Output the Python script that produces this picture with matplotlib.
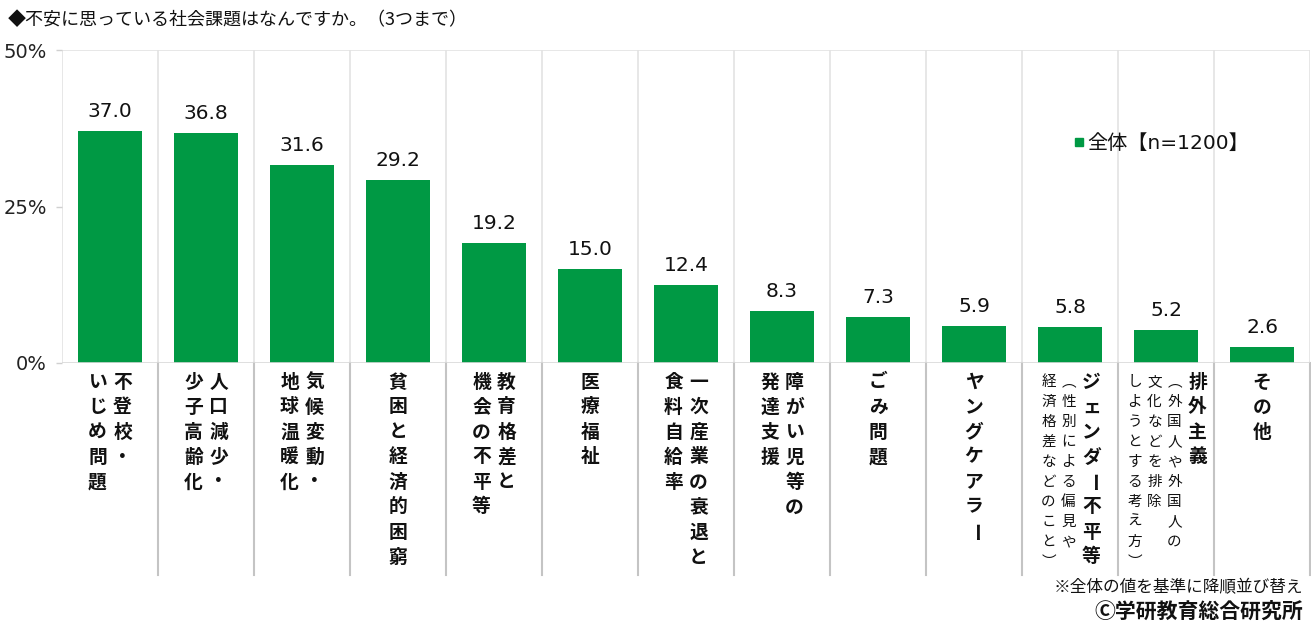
import matplotlib
matplotlib.use("Agg")
import matplotlib.pyplot as plt
from matplotlib.lines import Line2D
from matplotlib.patches import Rectangle
import matplotlib.transforms as mtransforms

# ---------------- data ----------------
categories = [
    "不登校・いじめ問題",
    "人口減少・少子高齢化",
    "気候変動・地球温暖化",
    "貧困と経済的困窮",
    "教育格差と機会の不平等",
    "医療福祉",
    "一次産業の衰退と食料自給率",
    "障がい児等の発達支援",
    "ごみ問題",
    "ヤングケアラー",
    "ジェンダー不平等（性別による偏見や経済格差などのこと）",
    "排外主義（外国人や外国人の文化などを排除しようとする考え方）",
    "その他",
]
# how each label is broken into vertical columns (main text, then small notes)
label_main_cols = [
    ["不登校・", "いじめ問題"],
    ["人口減少・", "少子高齢化"],
    ["気候変動・", "地球温暖化"],
    ["貧困と経済的困窮"],
    ["教育格差と", "機会の不平等"],
    ["医療福祉"],
    ["一次産業の衰退と", "食料自給率"],
    ["障がい児等の", "発達支援"],
    ["ごみ問題"],
    ["ヤングケアラー"],
    ["ジェンダー不平等"],
    ["排外主義"],
    ["その他"],
]
label_note_cols = [
    [], [], [], [], [], [], [], [], [], [],
    ["（性別による偏見や", "経済格差などのこと）"],
    ["（外国人や外国人の", "文化などを排除", "しようとする考え方）"],
    [],
]
values = [37.0, 36.8, 31.6, 29.2, 19.2, 15.0, 12.4, 8.3, 7.3, 5.9, 5.8, 5.2, 2.6]
series_name = "全体【n=1200】"
yticks = [0, 25, 50]
ytick_labels = ["0%", "25%", "50%"]
title = "◆不安に思っている社会課題はなんですか。（3つまで）"
note1 = "※全体の値を基準に降順並び替え"
note2 = "Ⓒ学研教育総合研究所"

# ---------------- style ----------------
W, H, DPI = 1311, 632, 100
GREEN = "#009944"
JP = ["Noto Sans CJK JP", "DejaVu Sans"]
NUM = ["DejaVu Sans", "Noto Sans CJK JP"]
plt.rcParams["font.family"] = JP

fig = plt.figure(figsize=(W / DPI, H / DPI), dpi=DPI)
ax_left, ax_right, ax_top, ax_bot = 62, 1310, 50, 363
ax = fig.add_axes([ax_left / W, (H - ax_bot) / H,
                   (ax_right - ax_left) / W, (ax_bot - ax_top) / H])

n = len(categories)
x = list(range(n))
ax.bar(x, values, width=0.667, color=GREEN, zorder=3)
ax.set_xlim(-0.5, n - 0.5)
ax.set_ylim(0, 50)

for s in ["top", "right", "bottom", "left"]:
    ax.spines[s].set_visible(False)

# light grid (category boundaries + top line + baseline)
for b in [i - 0.5 for i in range(n + 1)]:
    ax.axvline(b, color="#e3e3e3", lw=1.2, zorder=1)
ax.axhline(50, color="#e3e3e3", lw=1.2, zorder=1)
ax.axhline(0, color="#d9d9d9", lw=1.2, zorder=4)

ax.set_xticks([])
ax.set_yticks(yticks)
ax.set_yticklabels(ytick_labels, fontsize=14, family=NUM, color="#222222")
ax.tick_params(axis="y", length=4, width=1, color="#d0d0d0", pad=7)

# value labels
for xi, v in zip(x, values):
    ax.annotate(f"{v:.1f}", xy=(xi, v), xytext=(0, 10), textcoords="offset pixels",
                ha="center", va="bottom", fontsize=14.5, family=NUM, color="#111111")

# separators in label area
trans = mtransforms.blended_transform_factory(ax.transData, ax.transAxes)
sep_bottom = -(575 - ax_bot) / (ax_bot - ax_top)
for b in [i + 0.5 for i in range(n - 1)] + [n - 0.5]:
    ax.add_line(Line2D([b, b], [0, sep_bottom], transform=trans, color="#c4c4c4",
                       lw=1.5, clip_on=False, zorder=2))

# vertical-text category labels
VERT = {"（": "︵", "）": "︶"}
ROT = {"ー"}
MAIN_STEP, NOTE_STEP = 25, 20
MAIN_GAP, MAIN_NOTE_GAP, NOTE_GAP = 25, 23, 20
FIRST_DY = -19


def draw_col(xi, dx, text, step, size):
    for k, ch in enumerate(text):
        rot = -90 if ch in ROT else 0
        ch2 = VERT.get(ch, ch)
        ax.annotate(ch2, xy=(xi, 0), xycoords=("data", "axes fraction"),
                    xytext=(dx, FIRST_DY - k * step), textcoords="offset pixels",
                    ha="center", va="center", fontsize=size, rotation=rot,
                    rotation_mode="anchor", color="#111111",
                    fontweight="bold" if size > 12 else "normal",
                    annotation_clip=False)


for xi, mains, notes in zip(x, label_main_cols, label_note_cols):
    # column offsets right to left
    offs = [0]
    for _ in mains[1:]:
        offs.append(offs[-1] - MAIN_GAP)
    for j, _ in enumerate(notes):
        offs.append(offs[-1] - (MAIN_NOTE_GAP if j == 0 else NOTE_GAP))
    shift = -(offs[0] + offs[-1]) / 2
    cols = [(t, MAIN_STEP, 13.5) for t in mains] + [(t, NOTE_STEP, 10.5) for t in notes]
    for (t, step, size), o in zip(cols, offs):
        draw_col(xi, o + shift, t, step, size)

# legend
fig.patches.append(Rectangle((1075 / W, 1 - 146 / H), 8 / W, 8 / H,
                             transform=fig.transFigure, color=GREEN))
fig.text(1087 / W, 1 - 143 / H, series_name, fontsize=14.5, va="center", ha="left",
         family=NUM, color="#111111")

# title & notes
fig.text(8 / W, 1 - 20 / H, title, fontsize=13, va="center", ha="left", color="#111111")
fig.text(1303 / W, 1 - 588 / H, note1, fontsize=12, va="center", ha="right", color="#111111")
fig.text(1303 / W, 1 - 611 / H, note2, fontsize=15, va="center", ha="right",
         fontweight="bold", color="#111111")

fig.savefig("out.png", dpi=DPI)
